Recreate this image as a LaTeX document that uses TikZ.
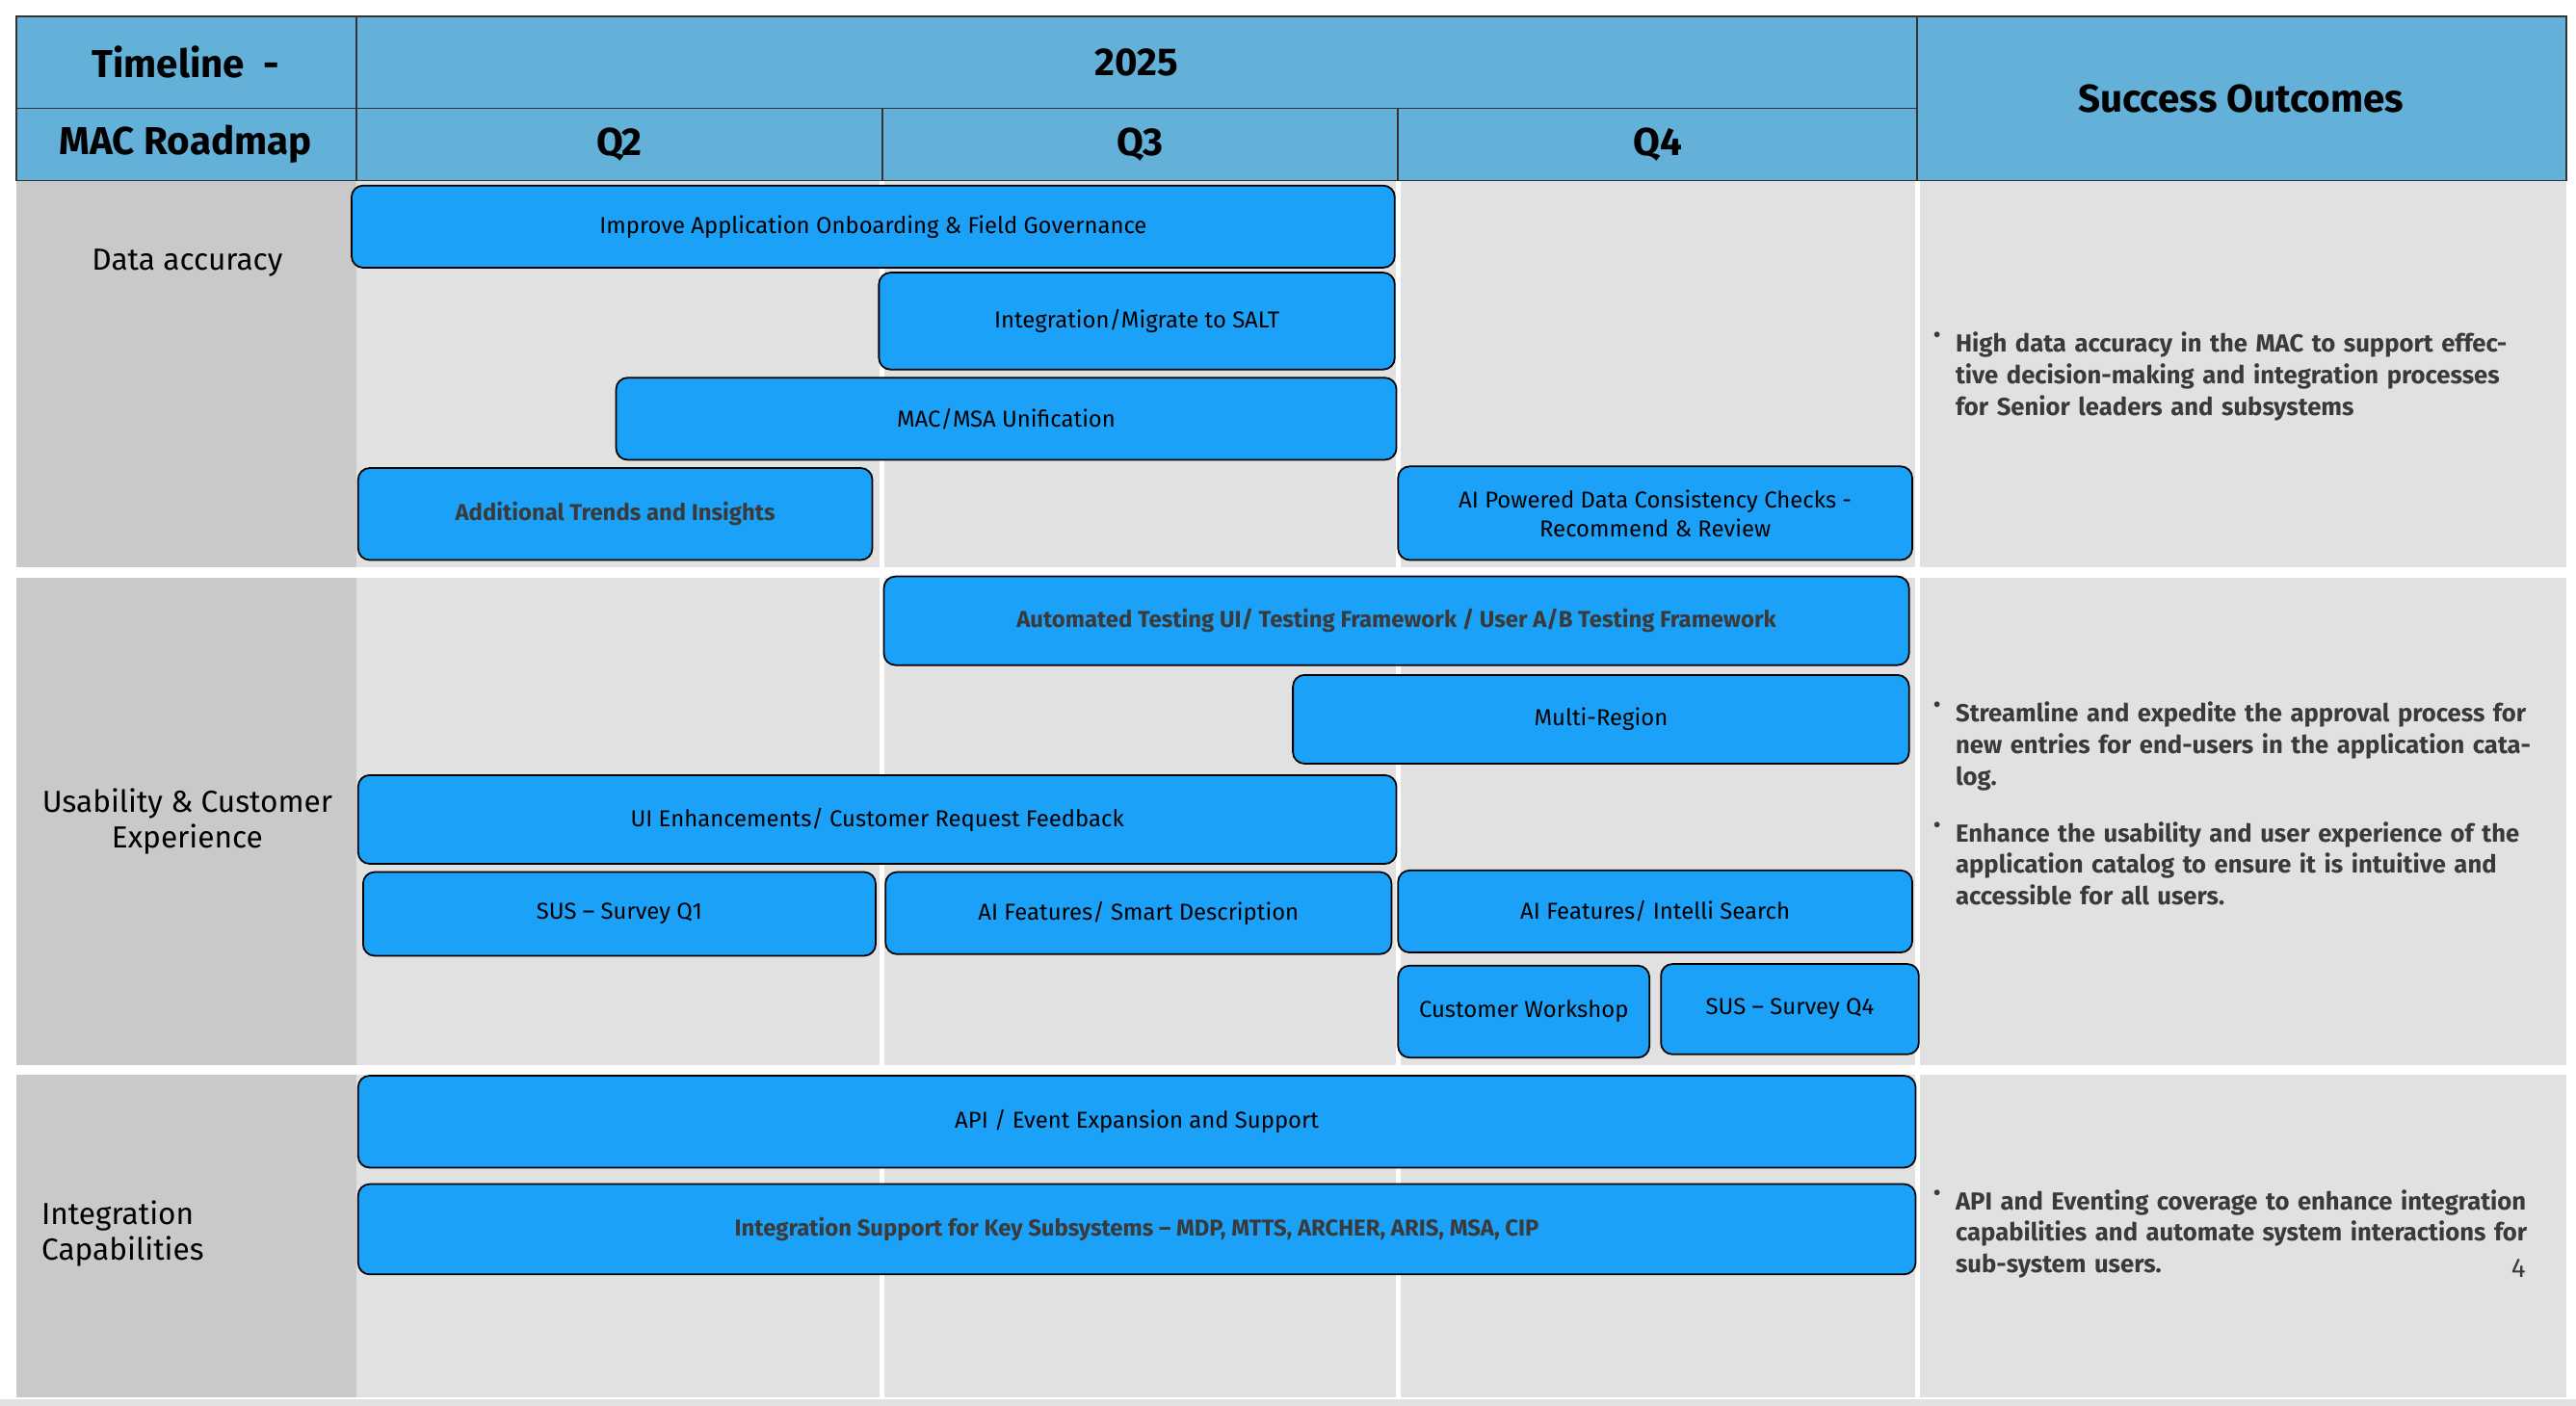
\documentclass[tikz,border=0pt]{standalone}
\usepackage{fontspec}
\setmainfont{Fira Sans}
\usetikzlibrary{positioning}
\definecolor{headblue}{HTML}{63B1D9}
\definecolor{barblue}{HTML}{1CA1F8}
\definecolor{lightgray}{HTML}{E1E1E1}
\definecolor{labelgray}{HTML}{C9C9C9}
\definecolor{textgray}{HTML}{3A3A3A}
\def\px{0.017054cm}
\newcommand\taskbox[7][]{%
  \node[taskbar, #1, minimum width={(#4-#3)*\px}, minimum height={(#6-#5)*\px}] (#2)
    at ({(#3+#4)/2},{(#5+#6)/2}) {#7};}
\begin{document}
\begin{tikzpicture}[x=\px, y=-\px,
    headcell/.style={draw=black!80, line width=0.5pt, fill=headblue},
    headtext/.style={font=\bfseries\fontsize{11.5}{13}\selectfont},
    rowlabel/.style={font=\fontsize{9}{10.5}\selectfont, align=center},
    taskbar/.style={draw=black, line width=0.5pt, fill=barblue, rounded corners=1.2mm, inner sep=1pt,
      align=center, font=\fontsize{6.8}{8.5}\selectfont},
    boldbar/.style={font=\bfseries\fontsize{6.8}{8.5}\selectfont, text=textgray},
    outcome/.style={anchor=north west, text width=355*\px, inner sep=0pt,
      font=\bfseries\fontsize{7.3}{9.3}\selectfont, text=textgray},
    sepline/.style={white, line width=1.5pt}
  ]
  \useasboundingbox (0,0) rectangle (1568,856);
  \fill[white] (0,0) rectangle (1568,856);
  % body backgrounds
  \fill[lightgray] (10,110) rectangle (1562,851);
  \fill[labelgray] (10,110) rectangle (217,851);
  \foreach \xx in {537,851,1167}
    \draw[sepline] (\xx,110) -- (\xx,851);
  \foreach \yy in {348.5,651.5}
    \draw[white, line width=3pt] (10,\yy) -- (1562,\yy);
  \fill[lightgray] (0,852) rectangle (1568,856);
  % header
  \draw[headcell] (10,10) rectangle (217,66);
  \draw[headcell] (10,66) rectangle (217,110);
  \draw[headcell] (217,10) rectangle (1167,66);
  \draw[headcell] (217,66) rectangle (537,110);
  \draw[headcell] (537,66) rectangle (851,110);
  \draw[headcell] (851,66) rectangle (1167,110);
  \draw[headcell] (1167,10) rectangle (1562,110);
  \node[headtext] (timeline) at (113,38) {Timeline~~-};
  \node[headtext] (roadmap) at (113,88) {MAC Roadmap};
  \node[headtext] (year) at (692,38) {2025};
  \node[headtext] (q2) at (377,88) {Q2};
  \node[headtext] (q3) at (694,88) {Q3};
  \node[headtext] (q4) at (1009,88) {Q4};
  \node[headtext] (success) at (1364,60) {Success Outcomes};
  % row labels
  \node[rowlabel] (accuracy) at (114,160) {Data accuracy};
  \node[rowlabel] (usability) at (114,500) {Usability \& Customer\\Experience};
  \node[rowlabel, align=left, anchor=west] (integration) at (18,751) {Integration\\Capabilities};
  % data accuracy
  \taskbox{onboard}{214}{849}{113}{163}{Improve Application Onboarding \& Field Governance}
  \taskbox{salt}{535}{849}{166}{225}{Integration/Migrate to SALT}
  \taskbox{unify}{375}{850}{230}{280}{MAC/MSA Unification}
  \taskbox[boldbar]{trends}{218}{531}{285}{341}{Additional Trends and Insights}
  \taskbox{aicheck}{851}{1164}{284}{341}{AI Powered Data Consistency Checks -\\Recommend \& Review}
  % usability
  \taskbox[boldbar]{testing}{538}{1162}{351}{405}{Automated Testing UI/ Testing Framework / User A/B Testing Framework}
  \taskbox{region}{787}{1162}{411}{465}{Multi-Region}
  \taskbox{uienh}{218}{850}{472}{526}{UI Enhancements/ Customer Request Feedback}
  \taskbox{susqa}{221}{533}{531}{582}{SUS -- Survey Q1}
  \taskbox{smart}{539}{847}{531}{581}{AI Features/ Smart Description}
  \taskbox{intelli}{851}{1164}{530}{580}{AI Features/ Intelli Search}
  \taskbox{workshop}{851}{1004}{588}{644}{Customer Workshop}
  \taskbox{susqb}{1011}{1168}{587}{642}{SUS -- Survey Q4}
  % integration
  \taskbox{api}{218}{1166}{655}{711}{API / Event Expansion and Support}
  \taskbox[boldbar]{subsys}{218}{1166}{721}{776}{Integration Support for Key Subsystems -- MDP, MTTS, ARCHER, ARIS, MSA, CIP}
  % outcomes
  \node[outcome] (outa) at (1190,202) {High data accuracy in the MAC to support effective decision-making and integration processes for Senior leaders and subsystems};
  \node[outcome] (outb) at (1190,427) {Streamline and expedite the approval process for new entries for end-users in the application catalog.};
  \node[outcome] (outc) at (1190,500) {Enhance the usability and user experience of the application catalog to ensure it is intuitive and accessible for all users.};
  \node[outcome] (outd) at (1190,724) {API and Eventing coverage to enhance integration capabilities and automate system interactions for sub-system users.};
  \foreach \b in {outa,outb,outc,outd}
    \node[anchor=north east, inner sep=0pt, text=textgray, font=\fontsize{7.3}{9.3}\selectfont] at ([xshift=-8*\px]\b.north west) {•};
  \node[font=\fontsize{8}{9}\selectfont, text=textgray] (page) at (1533,772) {4};
\end{tikzpicture}
\end{document}
